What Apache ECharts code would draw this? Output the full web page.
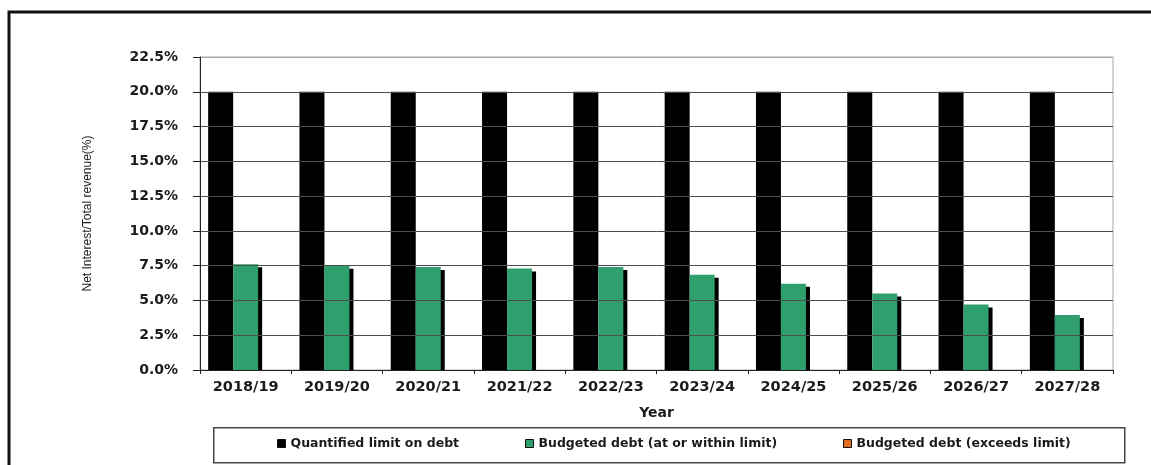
<!DOCTYPE html>
<html>
<head>
<meta charset="utf-8">
<script src="https://cdn.jsdelivr.net/npm/echarts@6/dist/echarts.min.js"></script>
<style>
  html, body { margin: 0; padding: 0; background: #fff; }
  #chart { width: 1151px; height: 465px; }
</style>
</head>
<body>
<div id="chart"></div>
<script>
// Fiscal years on the category axis
const years = ['2018/19', '2019/20', '2020/21', '2021/22', '2022/23',
               '2023/24', '2024/25', '2025/26', '2026/27', '2027/28'];

// Net interest as a share of total revenue (%)
const quantifiedLimit = [20, 20, 20, 20, 20, 20, 20, 20, 20, 20];
const budgetedWithin  = [7.6, 7.5, 7.4, 7.3, 7.4, 6.85, 6.2, 5.5, 4.7, 3.95];
const budgetedExceeds = [0, 0, 0, 0, 0, 0, 0, 0, 0, 0];

// Value axis ticks
const yMin = 0, yMax = 22.5, yStep = 2.5;

const seriesNames = [
  'Quantified limit on debt',
  'Budgeted debt (at or within limit)',
  'Budgeted debt (exceeds limit)'
];

const textFont = 'DejaVu Sans, Verdana, sans-serif';
const ink = '#1b1b1b';

const chart = echarts.init(document.getElementById('chart'), null, { renderer: 'canvas' });

const gridLineColors = [];
for (let v = yMin; v <= yMax + 1e-9; v += yStep) gridLineColors.push('#4d4d4d');
gridLineColors[gridLineColors.length - 1] = '#a8a8a8';

function legendAt(name, x) {
  return {
    data: [name],
    left: x,
    top: 437,
    padding: 0,
    itemWidth: 8,
    itemHeight: 8,
    itemGap: 0,
    icon: 'rect',
    textStyle: { fontFamily: textFont, fontWeight: 'bold', fontSize: 12.5, color: ink },
    itemStyle: { borderColor: '#111', borderWidth: 1, shadowColor: 'transparent', shadowBlur: 0, shadowOffsetX: 0, shadowOffsetY: 0 }
  };
}

const plot = { left: 200, right: 38, top: 57, bottom: 95 };

chart.setOption({
  animation: false,
  backgroundColor: '#fff',
  grid: {
    left: plot.left, right: plot.right, top: plot.top, bottom: plot.bottom,
    show: true, borderColor: '#a8a8a8', borderWidth: 1, backgroundColor: '#fff'
  },
  legend: [
    legendAt(seriesNames[0], 277),
    legendAt(seriesNames[1], 525),
    legendAt(seriesNames[2], 843)
  ],
  xAxis: {
    type: 'category',
    data: years,
    z: 5,
    name: 'Year',
    nameLocation: 'middle',
    nameGap: 36,
    nameTextStyle: { fontFamily: textFont, fontWeight: 'bold', fontSize: 14, color: ink },
    axisLine: { lineStyle: { color: '#222', width: 1 } },
    axisTick: { show: true, alignWithLabel: false, length: 4, lineStyle: { color: '#222' } },
    axisLabel: { margin: 10, fontFamily: textFont, fontWeight: 'bold', fontSize: 14.5, color: ink },
    splitLine: { show: false }
  },
  yAxis: {
    type: 'value',
    min: yMin,
    max: yMax,
    interval: yStep,
    z: 5,
    name: 'Net Interest/Total revenue(%)',
    nameLocation: 'middle',
    nameGap: 106,
    nameRotate: 90,
    nameTextStyle: { fontFamily: 'Liberation Sans Narrow, Arial Narrow, sans-serif', fontSize: 12, color: ink },
    axisLine: { show: true, lineStyle: { color: '#222', width: 1 } },
    axisTick: { show: true, length: 7, lineStyle: { color: '#222' } },
    axisLabel: {
      margin: 22,
      fontFamily: textFont, fontWeight: 'bold', fontSize: 14, color: ink,
      formatter: v => v.toFixed(1) + '%'
    },
    splitLine: { show: true, lineStyle: { color: gridLineColors, width: 1 } }
  },
  series: [
    {
      name: seriesNames[0],
      type: 'bar',
      data: quantifiedLimit,
      barWidth: 25,
      barGap: '0%',
      itemStyle: { color: '#000' }
    },
    {
      name: seriesNames[1],
      type: 'bar',
      data: budgetedWithin,
      barWidth: 25,
      barGap: '0%',
      itemStyle: {
        color: '#2f9f6e',
        shadowColor: '#000', shadowBlur: 0, shadowOffsetX: 4, shadowOffsetY: 3
      }
    },
    {
      name: seriesNames[2],
      type: 'bar',
      data: budgetedExceeds,
      barWidth: 25,
      barGap: '0%',
      itemStyle: { color: '#e36c1f' }
    }
  ],
  graphic: [
    // white strip under the plot so bar shadows stop at the baseline
    {
      type: 'rect', left: plot.left - 1, top: 465 - plot.bottom + 1, z: 4, silent: true,
      shape: { width: 1151 - plot.left - plot.right + 2, height: 6 },
      style: { fill: '#fff' }
    },
    // legend frame
    {
      type: 'rect', left: 213, top: 427, z: -1, silent: true,
      shape: { width: 911, height: 35 },
      style: { fill: '#fff', stroke: '#444', lineWidth: 1.5 }
    },
    // outer frame (top and left edges)
    {
      type: 'polyline', silent: true,
      shape: { points: [[9, 465], [9, 12], [1151, 12]] },
      style: { stroke: '#111', lineWidth: 3, fill: null }
    }
  ]
});
</script>
</body>
</html>
